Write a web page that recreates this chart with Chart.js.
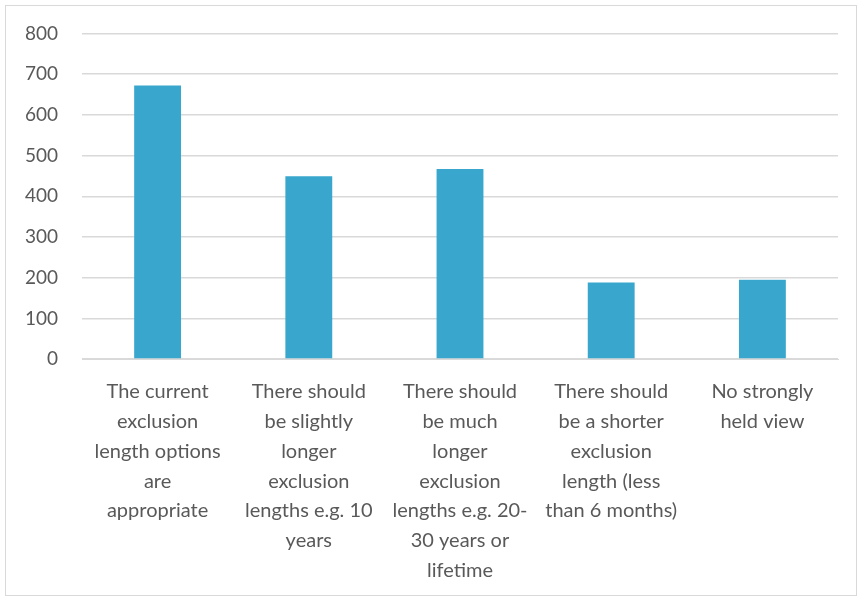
<!DOCTYPE html>
<html>
<head>
<meta charset="utf-8">
<script src="https://cdn.jsdelivr.net/npm/chart.js@4/dist/chart.umd.min.js"></script>
<style>
  html, body { margin: 0; padding: 0; background: #fff; }
  #box {
    position: absolute; left: 5px; top: 5px;
    width: 852px; height: 591px;
    border: 1px solid #d9d9d9; box-sizing: border-box;
  }
</style>
</head>
<body>
<div id="box"><canvas id="chart"></canvas></div>
<script>
// categories, one line per entry as wrapped in the original
const categories = [
    ["The current", "exclusion", "length options", "are", "appropriate"],
    ["There should", "be slightly", "longer", "exclusion", "lengths e.g. 10", "years"],
    ["There should", "be much", "longer", "exclusion", "lengths e.g. 20-", "30 years or", "lifetime"],
    ["There should", "be a shorter", "exclusion", "length (less", "than 6 months)"],
    ["No strongly", "held view"]
];
const responses = [672, 449, 467, 188, 195];
const yTicks = [0, 100, 200, 300, 400, 500, 600, 700, 800];

const textColor = "#595959";
const gridColor = "#d9d9d9";
const font = { family: "Lato, 'Open Sans', sans-serif", size: 19 };

const chart = new Chart(document.getElementById("chart"), {
    type: "bar",
    data: {
        labels: categories,
        datasets: [{
            data: responses,
            backgroundColor: "#39a7cd",
            categoryPercentage: 1,
            barPercentage: 0.31
        }]
    },
    options: {
        responsive: true,
        maintainAspectRatio: false,
        animation: false,
        layout: { padding: { left: 19, right: 18, top: 27.5, bottom: 0 } },
        plugins: { legend: { display: false }, tooltip: { enabled: false } },
        scales: {
            x: {
                grid: { display: false },
                border: { color: gridColor },
                ticks: {
                    color: textColor,
                    font: { family: font.family, size: 20, lineHeight: 1.485 },
                    maxRotation: 0,
                    autoSkip: false,
                    padding: 10
                }
            },
            y: {
                min: yTicks[0],
                max: yTicks[yTicks.length - 1],
                grid: { color: gridColor, lineWidth: 1.5, drawTicks: false },
                border: { display: false },
                afterBuildTicks: (axis) => { axis.ticks = yTicks.map(v => ({ value: v })); },
                afterFit: (axis) => {
                    // keep the axis as narrow as the original and its label overhang small
                    axis.width = 57;
                    axis.paddingTop = 11;
                    axis.paddingBottom = 11;
                },
                ticks: { color: textColor, font: font, padding: 24 }
            }
        }
    }
});
</script>
</body>
</html>
